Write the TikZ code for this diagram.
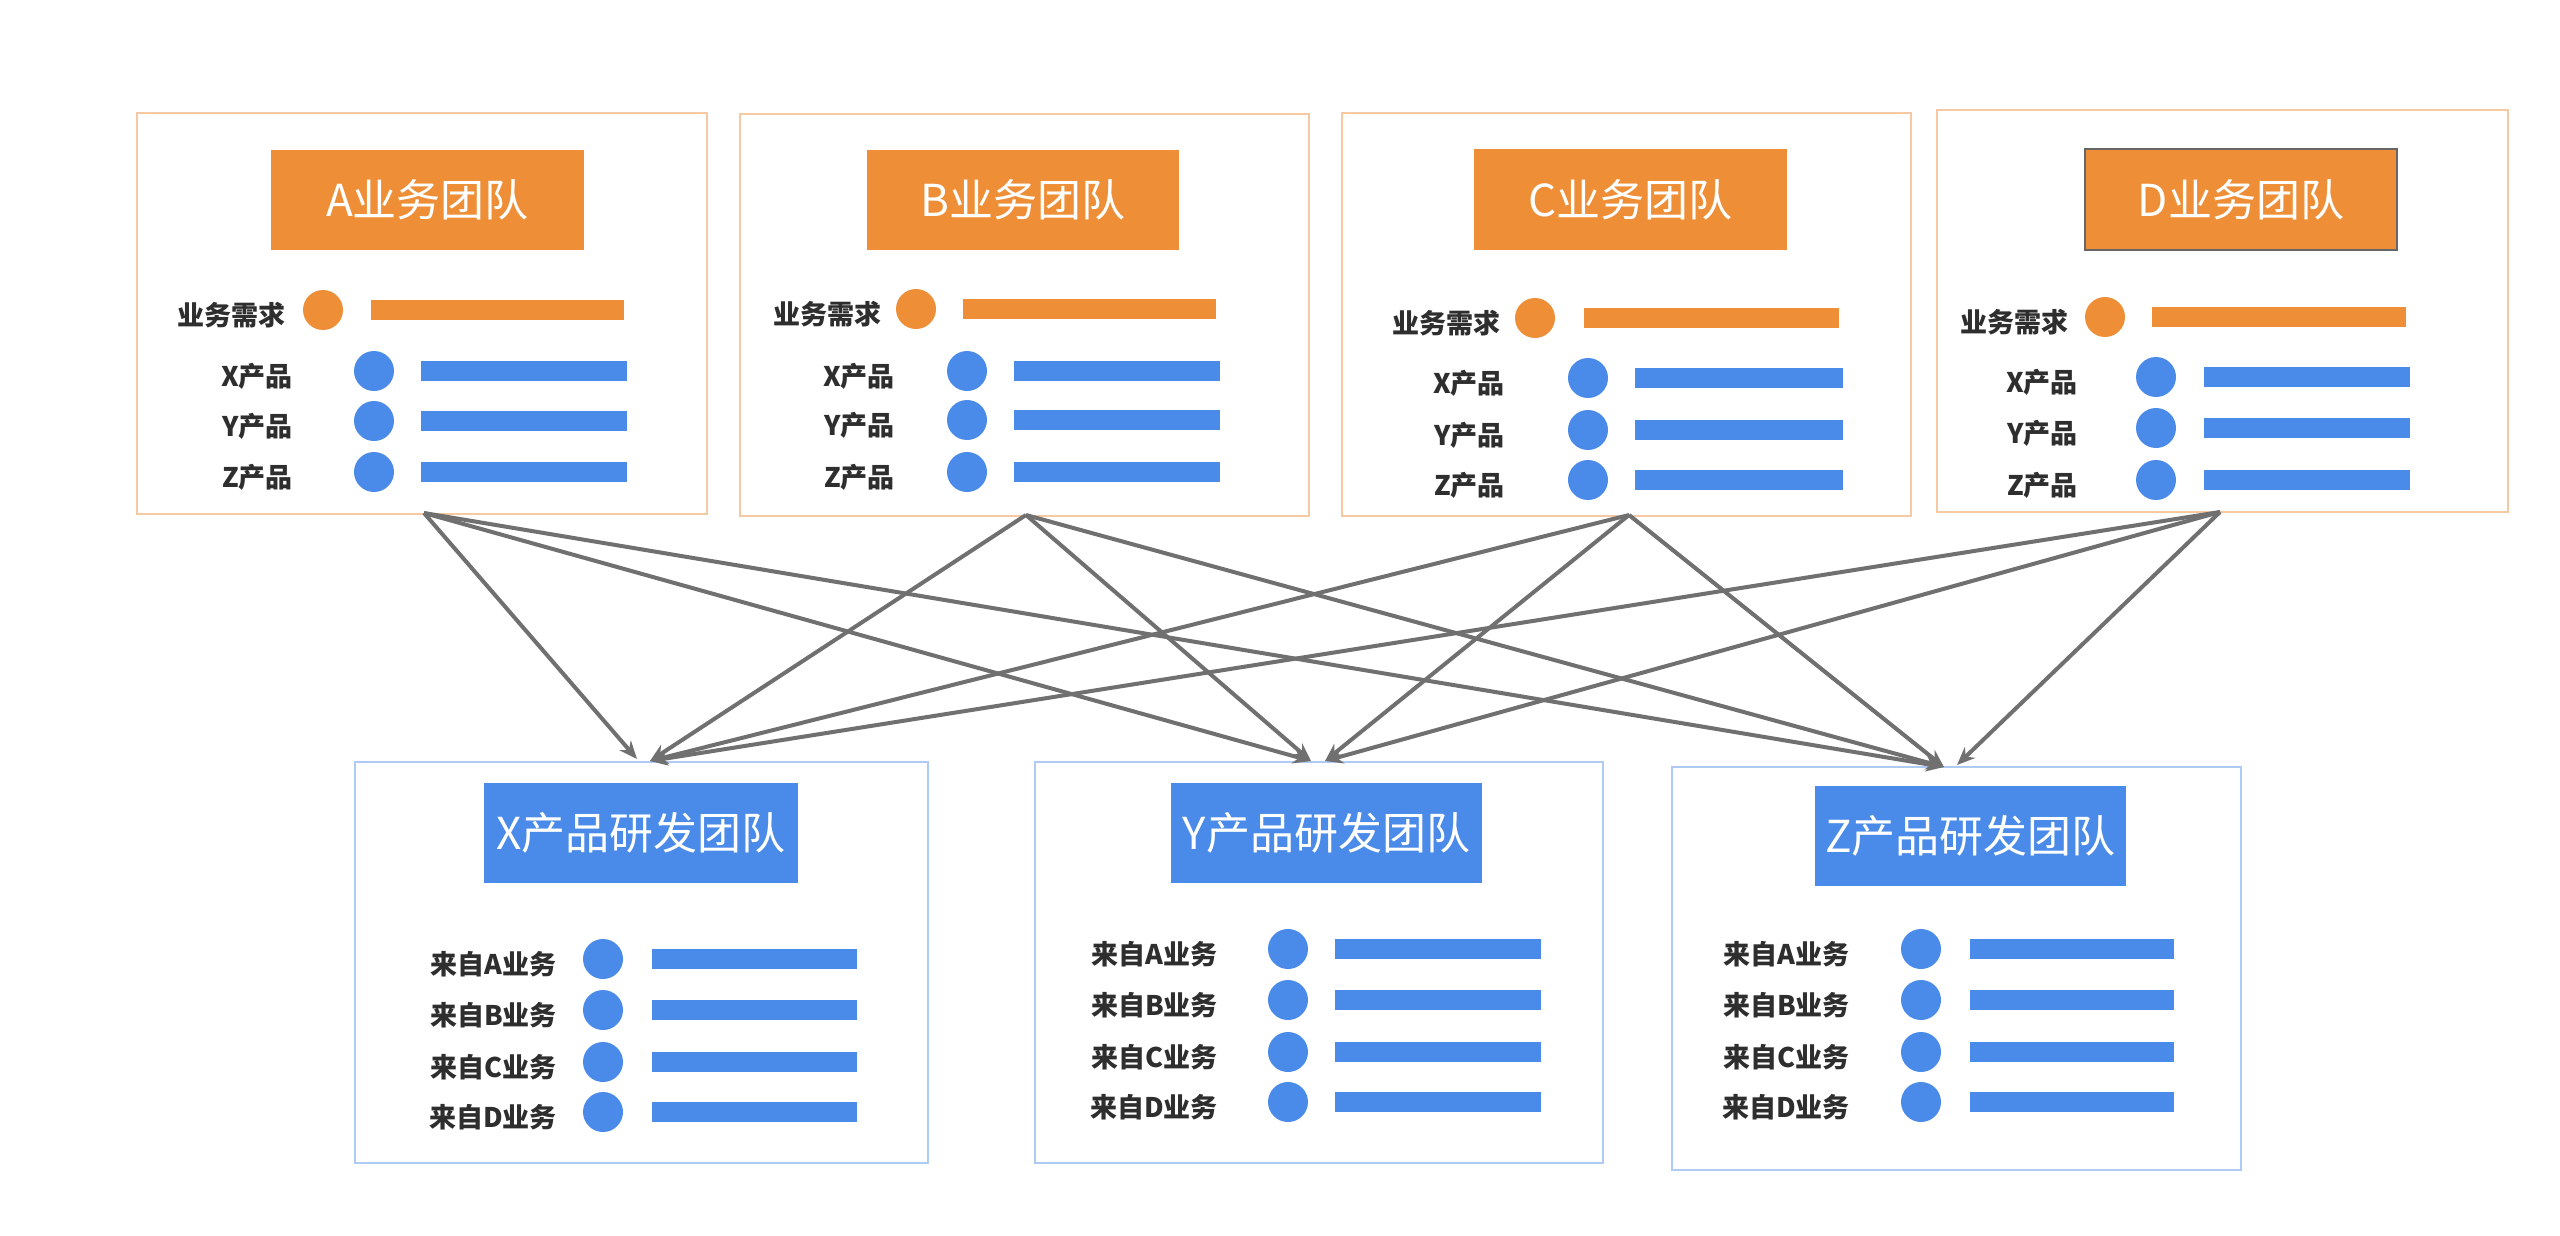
\documentclass[tikz,border=0pt]{standalone}
\usepackage{fontspec}
\setmainfont{Noto Sans CJK SC}
\usetikzlibrary{arrows.meta}
\definecolor{org}{HTML}{EE8F37}
\definecolor{blu}{HTML}{4A8AE8}
\definecolor{oline}{HTML}{F7C9A2}
\definecolor{bline}{HTML}{AFCBF5}
\definecolor{arr}{HTML}{707070}
\definecolor{lbl}{HTML}{2E2E2E}
\tikzset{
  tframe/.style={draw=oline, line width=2.5pt, fill=white, inner sep=0pt},
  bframe/.style={draw=bline, line width=2.5pt, fill=white, inner sep=0pt},
  otitle/.style={fill=org, text=white, inner sep=0pt, font=\fontsize{44}{50}\selectfont},
  btitle/.style={fill=blu, text=white, inner sep=0pt, font=\fontsize{44}{50}\selectfont},
  lab/.style={anchor=east, text=lbl, inner sep=0pt, font=\bfseries\fontsize{27}{30}\selectfont},
  link/.style={draw=arr, line width=4pt, -{Stealth[length=18pt,width=15pt]}},
}
% style, name, left, top, right, bottom
\newcommand\mkframe[6]{%
  \node[#1, minimum width={(#5-#3)*1pt}, minimum height={(#6-#4)*1pt}] (#2) at ({(#3+#5)/2},{(#4+#6)/2}) {};}
% style, name, left, top, right, bottom, text
\newcommand\mktitle[7]{%
  \node[#1, minimum width={(#5-#3)*1pt}, minimum height={(#6-#4)*1pt}] (#2) at ({(#3+#5)/2},{(#4+#6)/2}) {#7};}
% colour, label name, label right x, y, dot x, bar left, bar right, text
\newcommand\mkrow[8]{%
  \node[lab] (#2) at (#3,#4+5) {#8};
  \fill[#1] (#5,#4) circle (20pt);
  \fill[#1] (#6,#4-10) rectangle (#7,#4+10);}
\begin{document}
\begin{tikzpicture}[x=1pt,y=-1pt]
\useasboundingbox (0,0) rectangle (2560,1236);
\fill[white] (0,0) rectangle (2560,1236);

% ---------- top boxes ----------
\mkframe{tframe}{boxA}{137}{113}{707}{514}
\mktitle{otitle}{titA}{271}{150}{584}{250}{A业务团队}
\mkrow{org}{rA0}{286}{310}{323}{371}{624}{业务需求}
\mkrow{blu}{rA1}{293}{371}{374}{421}{627}{X产品}
\mkrow{blu}{rA2}{293}{421}{374}{421}{627}{Y产品}
\mkrow{blu}{rA3}{293}{472}{374}{421}{627}{Z产品}

\mkframe{tframe}{boxB}{740}{114}{1309}{516}
\mktitle{otitle}{titB}{867}{150}{1179}{250}{B业务团队}
\mkrow{org}{rB0}{882}{309}{916}{963}{1216}{业务需求}
\mkrow{blu}{rB1}{895}{371}{967}{1014}{1220}{X产品}
\mkrow{blu}{rB2}{895}{420}{967}{1014}{1220}{Y产品}
\mkrow{blu}{rB3}{895}{472}{967}{1014}{1220}{Z产品}

\mkframe{tframe}{boxC}{1342}{113}{1911}{516}
\mktitle{otitle}{titC}{1474}{149}{1787}{250}{C业务团队}
\mkrow{org}{rC0}{1501}{318}{1535}{1584}{1839}{业务需求}
\mkrow{blu}{rC1}{1505}{378}{1588}{1635}{1843}{X产品}
\mkrow{blu}{rC2}{1505}{430}{1588}{1635}{1843}{Y产品}
\mkrow{blu}{rC3}{1505}{480}{1588}{1635}{1843}{Z产品}

\mkframe{tframe}{boxD}{1937}{110}{2508}{512}
\mktitle{otitle,draw=gray!80!black,line width=1.5pt}{titD}{2085}{149}{2397}{250}{D业务团队}
\mkrow{org}{rD0}{2069}{317}{2105}{2152}{2406}{业务需求}
\mkrow{blu}{rD1}{2078}{377}{2156}{2204}{2410}{X产品}
\mkrow{blu}{rD2}{2078}{428}{2156}{2204}{2410}{Y产品}
\mkrow{blu}{rD3}{2078}{480}{2156}{2204}{2410}{Z产品}

% ---------- bottom boxes ----------
\mkframe{bframe}{boxX}{355}{762}{928}{1163}
\mktitle{btitle}{titX}{484}{783}{798}{883}{X产品研发团队}
\mkrow{blu}{rX1}{557}{959}{603}{652}{857}{来自A业务}
\mkrow{blu}{rX2}{557}{1010}{603}{652}{857}{来自B业务}
\mkrow{blu}{rX3}{557}{1062}{603}{652}{857}{来自C业务}
\mkrow{blu}{rX4}{557}{1112}{603}{652}{857}{来自D业务}

\mkframe{bframe}{boxY}{1035}{762}{1603}{1163}
\mktitle{btitle}{titY}{1171}{783}{1482}{883}{Y产品研发团队}
\mkrow{blu}{rY1}{1218}{949}{1288}{1335}{1541}{来自A业务}
\mkrow{blu}{rY2}{1218}{1000}{1288}{1335}{1541}{来自B业务}
\mkrow{blu}{rY3}{1218}{1052}{1288}{1335}{1541}{来自C业务}
\mkrow{blu}{rY4}{1218}{1102}{1288}{1335}{1541}{来自D业务}

\mkframe{bframe}{boxZ}{1672}{767}{2241}{1170}
\mktitle{btitle}{titZ}{1815}{786}{2126}{886}{Z产品研发团队}
\mkrow{blu}{rZ1}{1850}{949}{1921}{1970}{2174}{来自A业务}
\mkrow{blu}{rZ2}{1850}{1000}{1921}{1970}{2174}{来自B业务}
\mkrow{blu}{rZ3}{1850}{1052}{1921}{1970}{2174}{来自C业务}
\mkrow{blu}{rZ4}{1850}{1102}{1921}{1970}{2174}{来自D业务}

% ---------- connectors ----------
\coordinate (sA) at (424,513);
\coordinate (sB) at (1026,515);
\coordinate (sC) at (1629,515);
\coordinate (sD) at (2220,512);
\coordinate (tXl) at (637,759);
\coordinate (tXr) at (650,761);
\coordinate (tYl) at (1311,761);
\coordinate (tYr) at (1325,761);
\coordinate (tZl) at (1944,767);
\coordinate (tZr) at (1957,765);

\draw[link] (sA) -- (tXl);
\draw[link] (sA) -- (tYl);
\draw[link] (sA) -- (tZl);
\draw[link] (sB) -- (tXr);
\draw[link] (sB) -- (tYl);
\draw[link] (sB) -- (tZl);
\draw[link] (sC) -- (tXr);
\draw[link] (sC) -- (tYr);
\draw[link] (sC) -- (tZl);
\draw[link] (sD) -- (tXr);
\draw[link] (sD) -- (tYr);
\draw[link] (sD) -- (tZr);
\end{tikzpicture}
\end{document}
